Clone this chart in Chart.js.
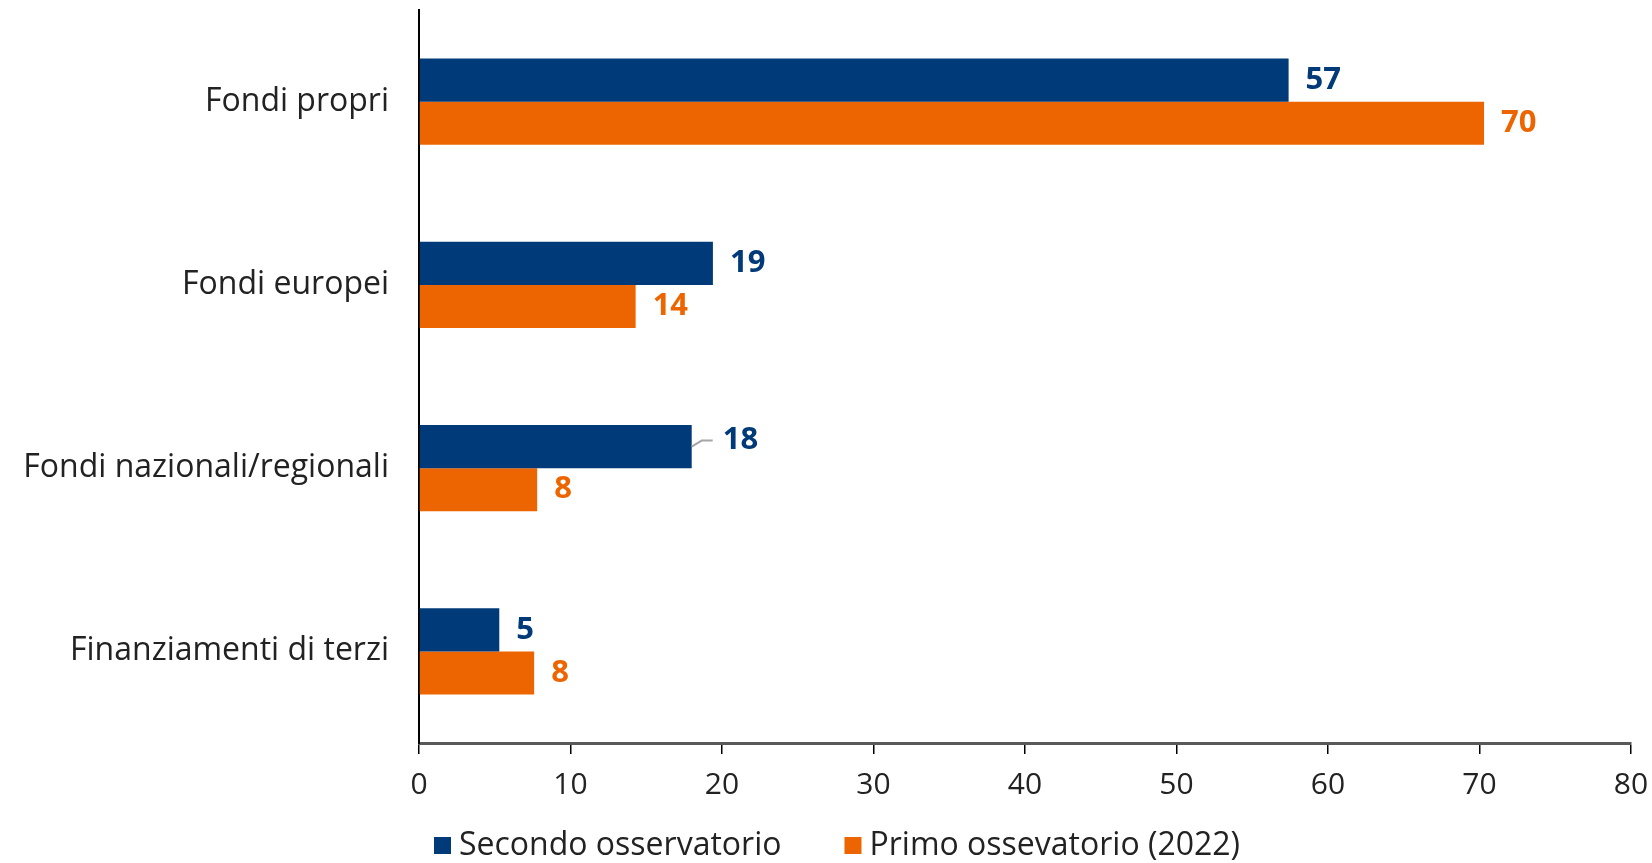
<!DOCTYPE html>
<html>
<head>
<meta charset="utf-8">
<script src="https://cdn.jsdelivr.net/npm/chart.js@4.4.1/dist/chart.umd.min.js"></script>
<style>
  html, body { margin: 0; padding: 0; background: #fff; }
  #wrap { width: 1652px; height: 863px; }
</style>
</head>
<body>
<div id="wrap"><canvas id="fundChart" width="1652" height="863"></canvas></div>
<script>
const categories = ['Fondi propri', 'Fondi europei', 'Fondi nazionali/regionali', 'Finanziamenti di terzi'];
const secondoValues = [57.4, 19.4, 18.0, 5.3];
const primoValues = [70.3, 14.3, 7.8, 7.6];
const seriesNames = ['Secondo osservatorio', 'Primo ossevatorio (2022)'];
const xTicks = [0, 10, 20, 30, 40, 50, 60, 70, 80];

const BLUE = '#003a78';
const ORANGE = '#ec6500';
const FONT = "'Open Sans', 'DejaVu Sans', sans-serif";

// value labels at the end of each bar (one gets a small leader line)
const valueLabels = {
  id: 'valueLabels',
  afterDatasetsDraw(chart) {
    const c = chart.ctx;
    c.save();
    c.font = 'bold 31px ' + FONT;
    c.textBaseline = 'middle';
    c.textAlign = 'left';
    chart.data.datasets.forEach((ds, di) => {
      const meta = chart.getDatasetMeta(di);
      meta.data.forEach((bar, i) => {
        const txt = Math.round(ds.data[i]).toString();
        let x = bar.x + 17;
        let y = bar.y;
        if (di === 0 && i === 2) {
          // leader line
          c.strokeStyle = '#a6a6a6';
          c.lineWidth = 2;
          c.beginPath();
          c.moveTo(bar.x, bar.y);
          c.lineTo(bar.x + 10, bar.y - 6);
          c.lineTo(bar.x + 21, bar.y - 6);
          c.stroke();
          x = bar.x + 31;
          y = bar.y - 6;
        }
        c.fillStyle = ds.backgroundColor;
        c.fillText(txt, x, y);
      });
    });
    c.restore();
  }
};

// legend drawn under the axis
const bottomLegend = {
  id: 'bottomLegend',
  afterDraw(chart) {
    const c = chart.ctx;
    c.save();
    c.font = '32px ' + FONT;
    c.textBaseline = 'middle';
    c.textAlign = 'left';
    let x = 434;
    const y = 846;
    chart.data.datasets.forEach((ds) => {
      c.fillStyle = ds.backgroundColor;
      c.fillRect(x, y - 9, 17, 17);
      c.fillStyle = '#222';
      c.fillText(ds.label, x + 25, y);
      x += 25 + c.measureText(ds.label).width + 63;
    });
    c.restore();
  }
};

const ctx = document.getElementById('fundChart').getContext('2d');

new Chart(ctx, {
  type: 'bar',
  data: {
    labels: categories,
    datasets: [
      { label: seriesNames[0], data: secondoValues, backgroundColor: BLUE,
        categoryPercentage: 0.47, barPercentage: 1.0 },
      { label: seriesNames[1], data: primoValues, backgroundColor: ORANGE,
        categoryPercentage: 0.47, barPercentage: 1.0 }
    ]
  },
  options: {
    indexAxis: 'y',
    responsive: false,
    animation: false,
    layout: { padding: { top: 10, right: 21, left: 0, bottom: 45 } },
    plugins: {
      legend: { display: false },
      tooltip: { enabled: false }
    },
    scales: {
      x: {
        min: 0,
        max: 80,
        afterBuildTicks: (scale) => { scale.ticks = xTicks.map(v => ({ value: v })); },
        afterFit: (scale) => {
          scale.height = 75;
          scale.paddingLeft = 0;
          scale.paddingRight = 0;
        },
        grid: { drawOnChartArea: false, drawTicks: true, tickLength: 11, color: '#000', lineWidth: 1.5 },
        border: { color: '#595959', width: 3 },
        ticks: { color: '#222', padding: 13, font: { family: FONT, size: 30 } }
      },
      y: {
        afterFit: (scale) => {
          scale.width = 419;
          scale.paddingTop = 0;
          scale.paddingBottom = 0;
        },
        grid: { drawOnChartArea: false, drawTicks: false, tickLength: 0 },
        border: { color: '#000', width: 2 },
        ticks: { color: '#222', padding: 30, font: { family: FONT, size: 32 } }
      }
    }
  },
  plugins: [valueLabels, bottomLegend]
});
</script>
</body>
</html>
